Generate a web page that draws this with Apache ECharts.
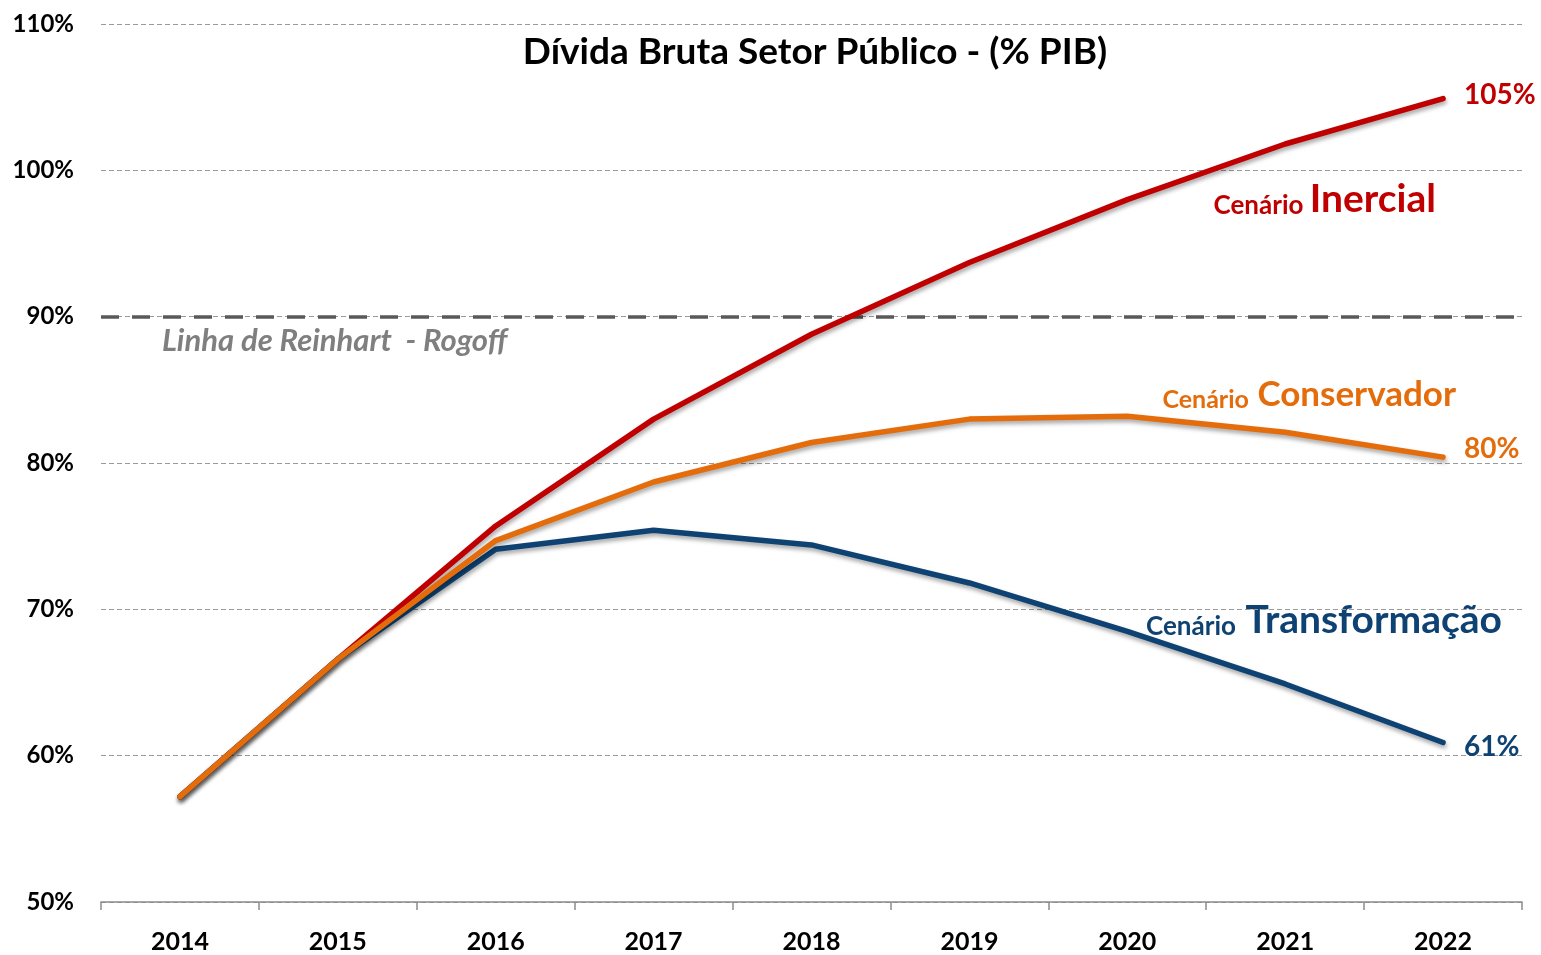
<!DOCTYPE html>
<html>
<head>
<meta charset="utf-8">
<script src="https://cdn.jsdelivr.net/npm/echarts@6/dist/echarts.min.js"></script>
<style>
  html, body { margin: 0; padding: 0; background: #fff; }
  #main { width: 1541px; height: 955px; }
</style>
</head>
<body>
<div id="main"></div>
<script>
// data
var years = ["2014", "2015", "2016", "2017", "2018", "2019", "2020", "2021", "2022"];
var inercial = [57.2, 66.6, 75.7, 83.0, 88.8, 93.7, 98.0, 101.8, 104.9];
var conservador = [57.2, 66.6, 74.7, 78.7, 81.4, 83.0, 83.2, 82.1, 80.4];
var transformacao = [57.2, 66.6, 74.1, 75.4, 74.4, 71.8, 68.5, 64.9, 60.9];
var reinhartRogoff = 90;

var FONT = "Lato, 'Open Sans', sans-serif";
var RED = "#C00000";
var ORANGE = "#E46C0A";
var BLUE = "#0E4273";

var chart = echarts.init(document.getElementById("main"));

function lineSeries(name, data, color, z, labelDy) {
  return {
    name: name,
    type: "line",
    data: data,
    z: z,
    symbol: "none",
    smooth: false,
    lineStyle: {
      color: color,
      width: 5.5,
      cap: "round",
      shadowColor: "rgba(0,0,0,0.35)",
      shadowBlur: 4,
      shadowOffsetY: 3,
      shadowOffsetX: 1
    },
    endLabel: {
      show: true,
      formatter: function (p) { return Math.round(p.value) + "%"; },
      color: color,
      fontFamily: FONT,
      fontWeight: "bold",
      fontSize: 28,
      offset: [13, labelDy]
    }
  };
}

var option = {
  animation: false,
  backgroundColor: "#fff",
  title: {
    text: "Dívida Bruta Setor Público - (% PIB)",
    left: 810,
    top: 29,
    textAlign: "center",
    textStyle: { fontFamily: FONT, fontWeight: "bold", fontSize: 37, color: "#000" }
  },
  grid: { left: 101, right: 19, top: 24, bottom: 53 },
  xAxis: {
    type: "category",
    data: years,
    boundaryGap: true,
    axisLine: { lineStyle: { color: "#8c8c8c", width: 1.5 } },
    axisTick: { show: true, length: 8, lineStyle: { color: "#8c8c8c", width: 1.5 } },
    axisLabel: { color: "#000", fontFamily: FONT, fontWeight: "bold", fontSize: 25, margin: 27 }
  },
  yAxis: {
    type: "value",
    min: 50,
    max: 110,
    interval: 10,
    axisLine: { show: false },
    axisTick: { show: false },
    axisLabel: {
      formatter: "{value}%",
      color: "#000",
      fontFamily: FONT,
      fontWeight: "bold",
      fontSize: 24,
      margin: 27
    },
    splitLine: { lineStyle: { color: "#9a9a9a", type: [5, 3], width: 1 } }
  },
  series: [
    lineSeries("Cenário Inercial", inercial, RED, 3, -4),
    lineSeries("Cenário Transformação", transformacao, BLUE, 4, 4),
    Object.assign(lineSeries("Cenário Conservador", conservador, ORANGE, 5, -8), {
      markLine: {
        silent: true,
        symbol: "none",
        label: { show: false },
        lineStyle: { color: "#595959", width: 3.5, type: [18, 13] },
        data: [{ yAxis: reinhartRogoff }],
        z: 2
      }
    })
  ],
  graphic: [
    {
      type: "text",
      left: 162, top: 325,
      style: {
        text: "Linha de Reinhart  - Rogoff",
        fill: "#7f7f7f",
        font: "italic bold 31px " + FONT
      }
    },
    {
      type: "text",
      right: 105, top: 180,
      style: {
        rich: {
          s: { fontFamily: FONT, fontWeight: "bold", fontSize: 26, fill: RED, verticalAlign: "bottom" },
          b: { fontFamily: FONT, fontWeight: "bold", fontSize: 39, fill: RED, verticalAlign: "bottom" }
        },
        text: "{s|Cenário }{b|Inercial}"
      }
    },
    {
      type: "text",
      right: 85, top: 377,
      style: {
        rich: {
          s: { fontFamily: FONT, fontWeight: "bold", fontSize: 25, fill: ORANGE, verticalAlign: "bottom" },
          b: { fontFamily: FONT, fontWeight: "bold", fontSize: 35, fill: ORANGE, verticalAlign: "bottom" }
        },
        text: "{s|Cenário}{b| Conservador}"
      }
    },
    {
      type: "text",
      right: 39, top: 601,
      style: {
        rich: {
          s: { fontFamily: FONT, fontWeight: "bold", fontSize: 26, fill: BLUE, verticalAlign: "bottom" },
          b: { fontFamily: FONT, fontWeight: "bold", fontSize: 39, fill: BLUE, verticalAlign: "bottom" }
        },
        text: "{s|Cenário}{b| Transformação}"
      }
    }
  ]
};

chart.setOption(option);
</script>
</body>
</html>
